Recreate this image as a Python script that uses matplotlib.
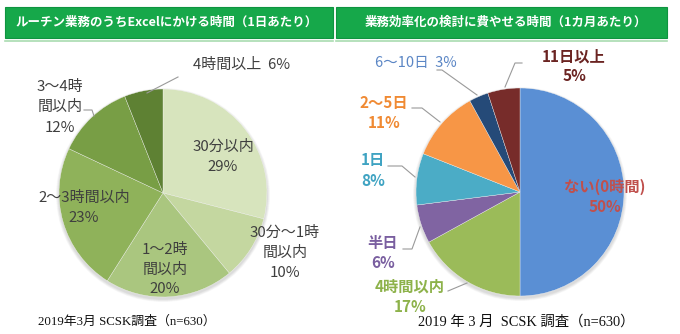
import matplotlib
matplotlib.use("Agg")
import matplotlib.pyplot as plt
from matplotlib.patches import Rectangle, Circle

plt.rcParams["font.family"] = ["Noto Sans CJK JP", "DejaVu Sans"]

# ルーチン業務のうちExcelにかける時間（1日あたり）
excel_titles = "ルーチン業務のうちExcelにかける時間（1日あたり）"
excel_labels = ["30分以内", "30分〜1時\n間以内", "1〜2時\n間以内", "2〜3時間以内", "3〜4時\n間以内", "4時間以上"]
excel_values = [29, 10, 20, 23, 12, 6]
excel_colors = ["#d7e4bd", "#c4d7a0", "#aac67f", "#8fb25a", "#789e45", "#5e8133"]

# 業務効率化の検討に費やせる時間（1カ月あたり）
review_title = "業務効率化の検討に費やせる時間（1カ月あたり）"
review_labels = ["ない(0時間)", "4時間以内", "半日", "1日", "2〜5日", "6〜10日", "11日以上"]
review_values = [50, 17, 6, 8, 11, 3, 5]
review_colors = ["#5a8fd4", "#9bbb59", "#8064a2", "#4bacc6", "#f79646", "#254a78", "#772c2a"]
review_text_colors = ["#c0504d", "#8db24a", "#7a5fa0", "#3fa3c2", "#f08a33", "#5b86c5", "#6b2422"]

footer_left = "2019年3月 SCSK調査（n=630）"
footer_right = "2019 年 3 月  SCSK 調査（n=630）"

W, H = 680, 334


def Y(y):
	# image rows run downward, axes y runs upward
	return H - y


def header(ax, x0, x1, text, tx, ha):
	ax.add_patch(Rectangle((x0, Y(38)), x1 - x0, 31, facecolor="#16a84a",
		edgecolor="#0f9440", linewidth=0.8, zorder=2))
	ax.plot([x0, x1], [Y(40.5), Y(40.5)], color="#a9dcb0", linewidth=1.2, zorder=2)
	ax.text(tx, Y(22.5), text, color="white", fontsize=9.0, fontweight="bold",
		ha=ha, va="center", zorder=3)


def shadow(ax, cx, cy, r):
	for k in range(6):
		ax.add_patch(Circle((cx, cy - 2), r + 3 - k * 0.5, facecolor="#000000",
			alpha=0.025, edgecolor="none", zorder=0))


def leader(ax, pts):
	xs = [p[0] for p in pts]
	ys = [Y(p[1]) for p in pts]
	ax.plot(xs, ys, color="#9a9a9a", linewidth=0.8, zorder=3)


def main():
	fig = plt.figure(figsize=(W / 100, H / 100), dpi=100)
	ax = fig.add_axes([0, 0, 1, 1])
	ax.set_xlim(0, W)
	ax.set_ylim(0, H)
	ax.set_aspect("equal")
	ax.axis("off")

	header(ax, 5, 333, excel_titles, 15, "left")
	header(ax, 336, 667, review_title, 506, "center")

	# left pie
	cx, cy, r = 163, Y(193), 104
	shadow(ax, cx, cy, r)
	ax.pie(excel_values, colors=excel_colors, startangle=90, counterclock=False,
		center=(cx, cy), radius=r, frame=True,
		wedgeprops={"edgecolor": "#f4f4f4", "linewidth": 0.25})

	gray = "#3f3f3f"
	fs = 10.8
	left_pos = [(223, 147, 167), (285, 233, 273), (165, 250, 289), (84, 198, 218), (60, 87, 128), None]
	for name, val, pos in zip(excel_labels, excel_values, left_pos):
		if pos is None:
			continue
		x, ytop, ypct = pos
		lines = name.split("\n")
		for i, line in enumerate(lines):
			ax.text(x, Y(ytop + i * 20), line, fontsize=fs, color=gray, ha="center", va="center")
		ax.text(x, Y(ypct), f"{val}%", fontsize=fs, color=gray, ha="center", va="center")
	ax.text(193, Y(65), f"{excel_labels[5]}  {excel_values[5]}%", fontsize=fs, color=gray,
		ha="left", va="center")
	leader(ax, [(178, 77), (147, 93)])
	leader(ax, [(84, 110), (92, 110), (94, 116)])

	# right pie
	cx, cy = 520, Y(192)
	shadow(ax, cx, cy, r)
	ax.pie(review_values, colors=review_colors, startangle=90, counterclock=False,
		center=(cx, cy), radius=r, frame=True,
		wedgeprops={"edgecolor": "#f4f4f4", "linewidth": 0.25})

	fs = 11
	right_pos = [(605, 187, 207), (410, 287, 307), (383, 243, 263), (373, 160, 181),
		(384, 103, 123), None, (574, 57, 76)]
	for name, val, col, pos in zip(review_labels, review_values, review_text_colors, right_pos):
		if pos is None:
			continue
		x, ytop, ypct = pos
		ax.text(x, Y(ytop), name, fontsize=fs, color=col, fontweight="bold", ha="center", va="center")
		ax.text(x, Y(ypct), f"{val}%", fontsize=fs, color=col, fontweight="bold", ha="center", va="center")
	ax.text(416, Y(63), f"{review_labels[5]}  {review_values[5]}%", fontsize=10.5,
		color=review_text_colors[5], ha="center", va="center")
	leader(ax, [(467, 283), (448, 291)])
	leader(ax, [(403, 249), (412, 249), (420, 227)])
	leader(ax, [(388, 166), (402, 166), (415, 177)])
	leader(ax, [(412, 108), (422, 108), (440, 122)])
	leader(ax, [(437, 70), (442, 70), (477, 95)])
	leader(ax, [(522, 63), (515, 63), (505, 87)])

	ax.set_xlim(0, W)
	ax.set_ylim(0, H)
	ax.axis("off")

	serif = ["Liberation Serif", "Noto Sans CJK JP"]
	ax.text(127, Y(322), footer_left, fontsize=9.3, family=serif, color="#111111",
		ha="center", va="center")
	ax.text(526, Y(322), footer_right, fontsize=10.4, family=serif, color="#111111",
		ha="center", va="center")

	fig.savefig("out.png", dpi=100)


if __name__ == "__main__":
	main()
